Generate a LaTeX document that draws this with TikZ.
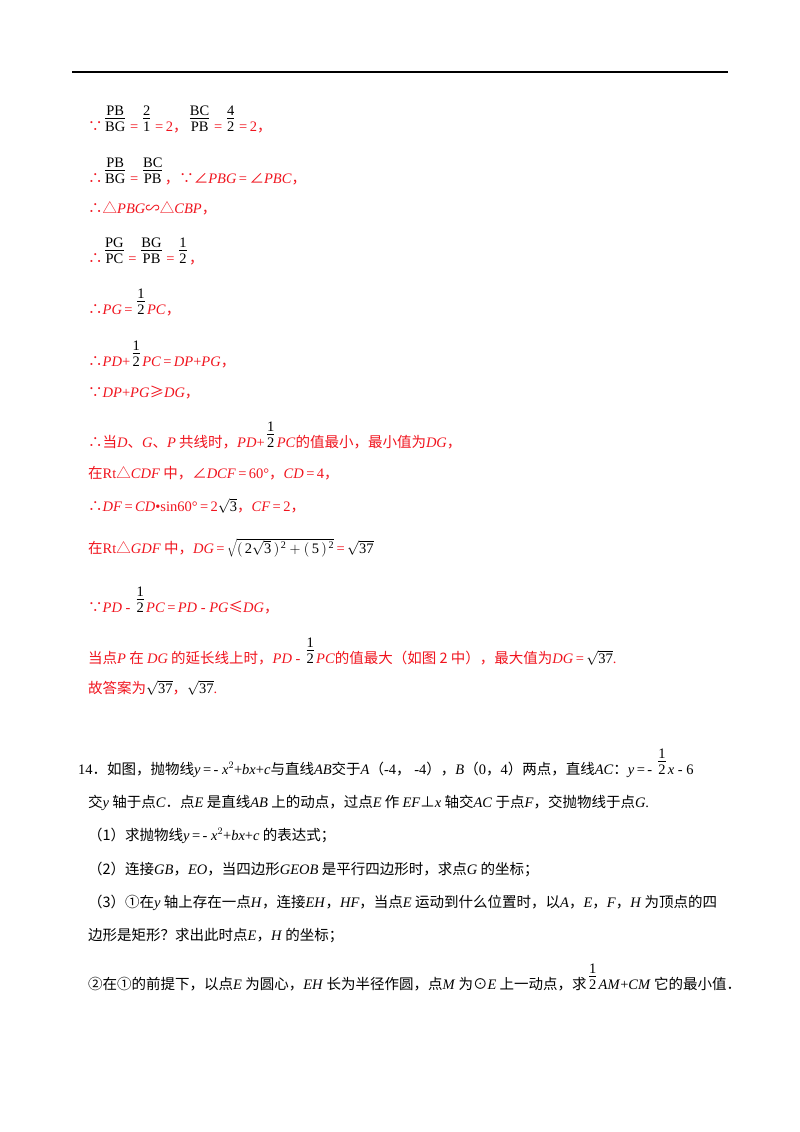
\documentclass[tikz,border=0pt]{standalone}
\usepackage{fontspec}
\setmainfont{Liberation Serif}
\newfontfamily\cjk{Noto Sans CJK SC}
\newcommand\cj[1]{{\cjk #1}}
\newcommand\iv[1]{\textit{#1}}
\definecolor{ansred}{RGB}{240,20,30}
\newcommand\fr[2]{\textcolor{black}{\,\begin{tabular}[b]{@{}c@{}}#1\\[-3pt]\hline\rule{0pt}{13pt}#2\end{tabular}\,}}
\newcommand\sq[1]{\textcolor{black}{$\sqrt{\mathrm{#1}}$}}
\newcommand\eq{\,=\,}
\begin{document}
\begin{tikzpicture}[x=1pt,y=-1pt,
  ln/.style={anchor=base west,inner sep=0pt,font=\fontsize{14.5}{17}\selectfont},
  ans/.style={ln,text=ansred},
  q/.style={ln,text=black}]
\useasboundingbox (0,0) rectangle (800,1132);
\draw[line width=1.2pt] (72,72) -- (728,72);
\node[ans] (l1) at (88,131) {\cj{∵}\fr{PB}{BG}\eq\fr{2}{1}\eq 2\cj{，}\fr{BC}{PB}\eq\fr{4}{2}\eq 2\cj{，}};
\node[ans] (l2) at (88,183) {\cj{∴}\fr{PB}{BG}\eq\fr{BC}{PB}\cj{，∵∠}\iv{PBG}\eq\cj{∠}\iv{PBC}\cj{，}};
\node[ans] (l3) at (88,213) {\cj{∴△}\iv{PBG}\cj{∽△}\iv{CBP}\cj{，}};
\node[ans] (l4) at (88,263) {\cj{∴}\fr{PG}{PC}\eq\fr{BG}{PB}\eq\fr{1}{2}\cj{，}};
\node[ans] (l5) at (88,314) {\cj{∴}\iv{PG}\eq\fr{1}{2}\iv{PC}\cj{，}};
\node[ans] (l6) at (88,366) {\cj{∴}\iv{PD}+\fr{1}{2}\iv{PC}\eq\iv{DP}+\iv{PG}\cj{，}};
\node[ans] (l7) at (88,397) {\cj{∵}\iv{DP}+\iv{PG}\cj{≥}\iv{DG}\cj{，}};
\node[ans] (l8) at (88,447) {\cj{∴当}\iv{D}\cj{、}\iv{G}\cj{、}\iv{P}\cj{ 共线时，}\iv{PD}+\fr{1}{2}\iv{PC}\cj{的值最小，最小值为}\iv{DG}\cj{，}};
\node[ans] (l9) at (88,478) {\cj{在}Rt\cj{△}\iv{CDF}\cj{ 中，∠}\iv{DCF}\eq 60°\cj{，}\iv{CD}\eq 4\cj{，}};
\node[ans] (l10) at (88,511) {\cj{∴}\iv{DF}\eq\iv{CD}\textbullet sin60°\eq 2\sq{3}\cj{，}\iv{CF}\eq 2\cj{，}};
\node[ans] (l11) at (88,553) {\cj{在}Rt\cj{△}\iv{GDF}\cj{ 中，}\iv{DG}\eq\textcolor{black}{$\sqrt{\mathrm{(\,2\sqrt{3}\,)^{\,2}+(\,5\,)^{\,2}}}$}\eq\sq{37}};
\node[ans] (l12) at (88,612) {\cj{∵}\iv{PD} - \fr{1}{2}\iv{PC}\eq\iv{PD} - \iv{PG}\cj{≤}\iv{DG}\cj{，}};
\node[ans] (l13) at (88,663) {\cj{当点}\iv{P}\cj{ 在 }\iv{DG}\cj{ 的延长线上时，}\iv{PD} - \fr{1}{2}\iv{PC}\cj{的值最大（如图 2 中），最大值为}\iv{DG}\eq\sq{37}.};
\node[ans] (l14) at (88,693) {\cj{故答案为}\sq{37}\cj{，}\sq{37}.};
\node[q] (q1) at (78,774) {14\cj{．如图，抛物线}\iv{y}\eq - \iv{x}$^2$+\iv{bx}+\iv{c}\cj{与直线}\iv{AB}\cj{交于}\iv{A}\cj{（}-4\cj{，} -4\cj{），}\iv{B}\cj{（}0\cj{，}4\cj{）两点，直线}\iv{AC}\cj{：}\iv{y}\eq - \fr{1}{2}\iv{x} - 6};
\node[q] (q2) at (88,807) {\cj{交}\iv{y}\cj{ 轴于点}\iv{C}\cj{．点}\iv{E}\cj{ 是直线}\iv{AB}\cj{ 上的动点，过点}\iv{E}\cj{ 作 }\iv{EF}\cj{⊥}\iv{x}\cj{ 轴交}\iv{AC}\cj{ 于点}\iv{F}\cj{，交抛物线于点}\iv{G}.};
\node[q] (q3) at (88,840) {\cj{（1）求抛物线}\iv{y}\eq - \iv{x}$^2$+\iv{bx}+\iv{c}\cj{ 的表达式；}};
\node[q] (q4) at (88,874) {\cj{（2）连接}\iv{GB}\cj{，}\iv{EO}\cj{，当四边形}\iv{GEOB}\cj{ 是平行四边形时，求点}\iv{G}\cj{ 的坐标；}};
\node[q] (q5) at (88,907) {\cj{（3）①在}\iv{y}\cj{ 轴上存在一点}\iv{H}\cj{，连接}\iv{EH}\cj{，}\iv{HF}\cj{，当点}\iv{E}\cj{ 运动到什么位置时，以}\iv{A}\cj{，}\iv{E}\cj{，}\iv{F}\cj{，}\iv{H}\cj{ 为顶点的四}};
\node[q] (q6) at (88,940) {\cj{边形是矩形？求出此时点}\iv{E}\cj{，}\iv{H}\cj{ 的坐标；}};
\node[q] (q7) at (88,989) {\cj{②在①的前提下，以点}\iv{E}\cj{ 为圆心，}\iv{EH}\cj{ 长为半径作圆，点}\iv{M}\cj{ 为⊙}\iv{E}\cj{ 上一动点，求}\fr{1}{2}\iv{AM}+\iv{CM}\cj{ 它的最小值．}};
\end{tikzpicture}
\end{document}
